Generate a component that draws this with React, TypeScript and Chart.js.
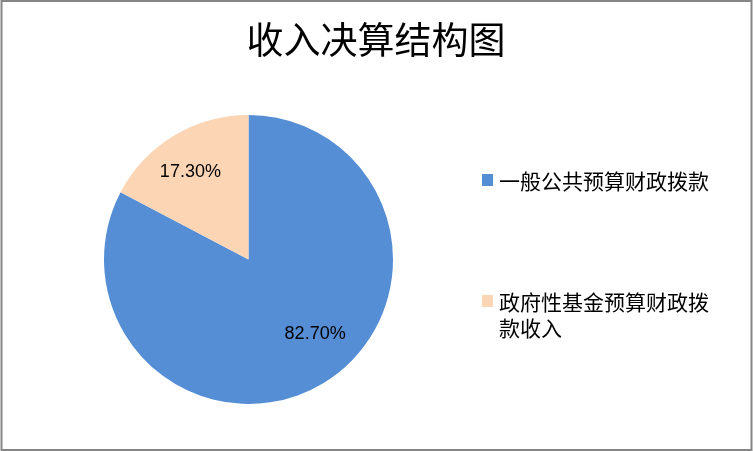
import React, { useEffect, useRef } from "react";
import { Chart, registerables } from "chart.js";

Chart.register(...registerables);

const titleText = "收入决算结构图";
const categories = ["一般公共预算财政拨款", "政府性基金预算财政拨款收入"];
const shares = [82.7, 17.3];
const sliceColors = ["#558ED5", "#FCD5B5"];
const labelTexts = ["82.70%", "17.30%"];

const CJK = '"Noto Sans CJK SC", "Noto Sans", sans-serif';

const overlayPlugin = {
  id: "overlay",
  afterDraw(chart: any) {
    const ctx = chart.ctx as CanvasRenderingContext2D;
    const W = chart.width;
    const H = chart.height;
    ctx.save();

    // border
    ctx.strokeStyle = "#868686";
    ctx.lineWidth = 2;
    ctx.strokeRect(1.5, 1, W - 3, H - 2);

    // title
    ctx.fillStyle = "#000000";
    ctx.font = `37px ${CJK}`;
    ctx.textAlign = "center";
    ctx.textBaseline = "middle";
    ctx.fillText(titleText, 376, 40);

    // data labels
    const meta = chart.getDatasetMeta(0);
    const shifts = [-10.8, -2.6];
    const factors = [0.69, 0.724];
    ctx.font = '18px "Liberation Sans", Arial, sans-serif';
    meta.data.forEach((arc: any, i: number) => {
      const p = arc.getProps(["x", "y", "startAngle", "endAngle", "outerRadius"], true);
      const mid = (p.startAngle + p.endAngle) / 2 + (shifts[i] * Math.PI) / 180;
      const r = p.outerRadius * factors[i];
      ctx.fillText(labelTexts[i], p.x + Math.cos(mid) * r, p.y + Math.sin(mid) * r);
    });

    // legend
    const labels: string[] = chart.data.labels;
    const colors: string[] = chart.data.datasets[0].backgroundColor;
    const itemY = [181, 302];
    const textX = 499;
    const maxW = 238;
    const lineH = 26;
    ctx.font = `21px ${CJK}`;
    ctx.textAlign = "left";
    labels.forEach((lab, i) => {
      const lines: string[] = [];
      let cur = "";
      for (const ch of lab) {
        if (ctx.measureText(cur + ch).width > 226 && cur) {
          lines.push(cur);
          cur = ch;
        } else cur += ch;
      }
      if (cur) lines.push(cur);
      ctx.fillStyle = colors[i];
      ctx.fillRect(482, itemY[i] - 7, 11, 12);
      ctx.fillStyle = "#000000";
      lines.forEach((ln, k) => ctx.fillText(ln, textX, itemY[i] + k * lineH));
    });

    ctx.restore();
  },
};

export default function App() {
  const ref = useRef<HTMLCanvasElement | null>(null);
  useEffect(() => {
    document.body.style.margin = "0";
    if (!ref.current) return;
    const chart = new Chart(ref.current, {
      type: "pie",
      data: {
        labels: categories,
        datasets: [
          {
            data: shares,
            backgroundColor: sliceColors,
            borderWidth: 0,
          },
        ],
      },
      options: {
        animation: false,
        responsive: false,
        maintainAspectRatio: false,
        layout: { padding: { left: 104, right: 360, top: 115, bottom: 47 } },
        plugins: {
          legend: { display: false },
          title: { display: false },
          tooltip: { enabled: false },
        },
      },
      plugins: [overlayPlugin],
    } as any);
    return () => chart.destroy();
  }, []);
  return (
    <div style={{ width: 753, height: 451, background: "#ffffff" }}>
      <canvas ref={ref} width={753} height={451} style={{ display: "block" }} />
    </div>
  );
}
